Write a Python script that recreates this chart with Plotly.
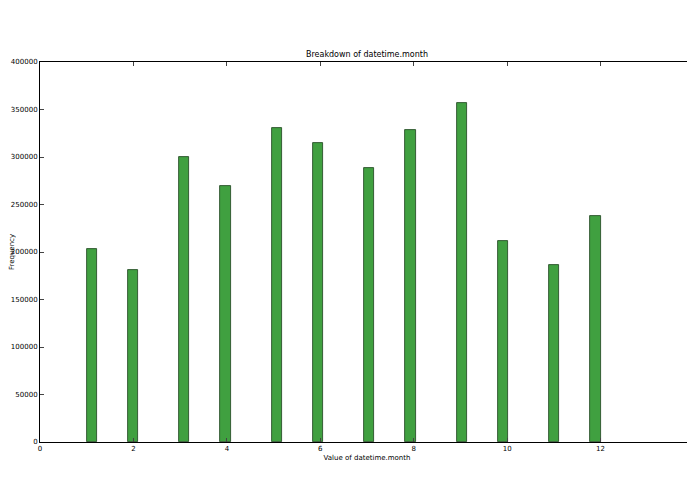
import numpy as np
import plotly.graph_objects as go

months = list(range(1, 13))
counts = [203000, 181000, 300500, 270000, 330500, 315000,
          288000, 328500, 356500, 212000, 186500, 238000]

# histogram with 50 bins over 1..12, like the original
edges = np.linspace(1, 12, 51)
width = edges[1] - edges[0]
idx = np.clip(np.searchsorted(edges, months, side="right") - 1, 0, 49)
lefts = edges[idx]

fig = go.Figure(go.Bar(
    x=lefts + width / 2, y=counts, width=width,
    marker=dict(color="#40a040", line=dict(color="#1a401a", width=0.8)),
))

axis = dict(showgrid=False, zeroline=False, showline=True, linecolor="black",
            linewidth=1, mirror="ticks", ticks="inside", ticklen=4,
            automargin=False, tickfont=dict(size=7, color="black"))
fig.update_xaxes(range=[0, 14], dtick=2, title=dict(text="Value of datetime.month",
                 font=dict(size=7), standoff=2), **axis)
fig.update_yaxes(range=[0, 400000], dtick=50000, tickformat="d",
                 title=dict(text="Frequency", font=dict(size=7), standoff=2), **axis)
fig.update_layout(
    width=695, height=494, plot_bgcolor="white", paper_bgcolor="white",
    font=dict(family="DejaVu Sans", color="black"),
    title=dict(text="Breakdown of datetime.month", x=0.5, xanchor="center",
               xref="paper", y=0.9, yanchor="bottom", font=dict(size=8)),
    margin=dict(l=32, r=9, t=54, b=60), showlegend=False, bargap=0,
)
fig.write_html("out.html")
